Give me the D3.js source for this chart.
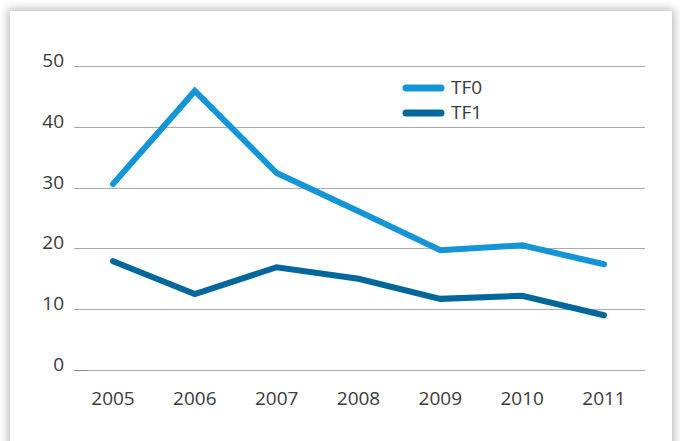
<!DOCTYPE html>
<html>
<head>
<meta charset="utf-8">
<script src="https://cdn.jsdelivr.net/npm/d3@7"></script>
<style>
  body { margin: 0; background: #fff; }
  #panel {
    position: absolute; left: 10px; top: 11px; width: 662px; height: 440px;
    background: #fff; box-shadow: 0 0 9px 2px rgba(0,0,0,0.28);
  }
  svg { position: absolute; left: 0; top: 0; }
</style>
</head>
<body>
<div id="panel"></div>
<script>
// dati
var years = ["2005", "2006", "2007", "2008", "2009", "2010", "2011"];
var tf0 = [30.6, 45.9, 32.4, 26.1, 19.7, 20.5, 17.4];
var tf1 = [17.9, 12.5, 16.9, 15.0, 11.7, 12.2, 9.0];
var yTicks = [0, 10, 20, 30, 40, 50];
var seriesNames = ["TF0", "TF1"];
var seriesColors = ["#1496d6", "#00679d"];

const width = 680;
const height = 441;

// scale
var xScale = d3.scalePoint().domain(years).range([113, 604]);
var yScale = d3.scaleLinear().domain([0, 50]).range([370, 66]);

var svg = d3.select("body").append("svg")
    .attr("width", width)
    .attr("height", height)
    .style("font-family", "'Open Sans', sans-serif");

// griglia orizzontale
svg.append("g")
    .selectAll("line")
    .data(yTicks)
    .join("line")
    .attr("x1", 74)
    .attr("x2", 645)
    .attr("y1", d => Math.round(yScale(d)) + 0.5)
    .attr("y2", d => Math.round(yScale(d)) + 0.5)
    .style("stroke", "#aaa")
    .style("stroke-width", 1);

// piccolo segno scuro sullo zero
svg.append("line")
    .attr("x1", 74).attr("x2", 88)
    .attr("y1", Math.round(yScale(0)) + 0.5)
    .attr("y2", Math.round(yScale(0)) + 0.5)
    .style("stroke", "#888");

// etichette asse y
svg.append("g")
    .selectAll("text")
    .data(yTicks)
    .join("text")
    .text(d => d)
    .attr("x", 64)
    .attr("y", d => yScale(d) + 1)
    .attr("text-anchor", "end")
    .style("font-size", "19px")
    .style("fill", "#3a3a3a");

// etichette asse x
svg.append("g")
    .selectAll("text")
    .data(years)
    .join("text")
    .text(d => d)
    .attr("x", d => xScale(d))
    .attr("y", 405)
    .attr("text-anchor", "middle")
    .style("font-size", "19px")
    .style("fill", "#3a3a3a");

// linee
var line = d3.line()
    .x((d, i) => xScale(years[i]))
    .y(d => yScale(d));

[tf0, tf1].forEach((serie, k) => {
    svg.append("path")
        .attr("d", line(serie))
        .style("fill", "none")
        .style("stroke", seriesColors[k])
        .style("stroke-width", 6)
        .style("stroke-linecap", "round")
        .style("stroke-linejoin", "miter");
});

// legenda
seriesNames.forEach((name, k) => {
    var ly = 88 + k * 25;
    svg.append("line")
        .attr("x1", 406).attr("x2", 441)
        .attr("y1", ly).attr("y2", ly)
        .style("stroke", seriesColors[k])
        .style("stroke-width", 7)
        .style("stroke-linecap", "round");
    svg.append("text")
        .text(name)
        .attr("x", 451)
        .attr("y", ly + 6)
        .style("font-size", "19px")
        .style("fill", "#3a3a3a");
});
</script>
</body>
</html>
